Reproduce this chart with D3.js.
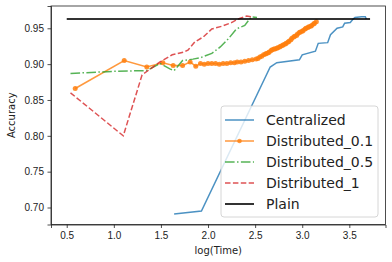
<!DOCTYPE html>
<html>
<head>
<meta charset="utf-8">
<script src="https://d3js.org/d3.v7.min.js"></script>
<style>
  body { margin: 0; background: #fff; }
  svg { display: block; font-family: "DejaVu Sans", sans-serif; }
  .axis text { font-size: 10px; fill: #222; }
  .axis path, .axis line { stroke: #222; stroke-width: 0.8px; }
</style>
</head>
<body>
<svg width="392" height="262"></svg>
<script>
// ~~~~~~ DATA ~~~~~~

var xTicks = [0.5, 1.0, 1.5, 2.0, 2.5, 3.0, 3.5];
var yTicks = [0.70, 0.75, 0.80, 0.85, 0.90, 0.95];

var centralized_x = [1.64, 1.93, 2.66, 2.73, 2.97, 3.00, 3.14, 3.17, 3.27, 3.30, 3.37, 3.43, 3.45, 3.51, 3.54, 3.56, 3.63, 3.67, 3.68];
var centralized_y = [0.691, 0.695, 0.896, 0.902, 0.906, 0.913, 0.918, 0.929, 0.930, 0.941, 0.950, 0.952, 0.957, 0.958, 0.963, 0.965, 0.966, 0.966, 0.963];

var dist01_x = [0.59, 1.11, 1.35, 1.52, 1.63, 1.73, 1.81, 1.87, 1.92, 1.96, 2.00, 2.04, 2.08, 2.12, 2.16, 2.20, 2.24, 2.28, 2.31, 2.35, 2.39, 2.43, 2.47, 2.51, 2.53, 2.55, 2.57, 2.59, 2.61, 2.62, 2.64, 2.65, 2.67, 2.68, 2.70, 2.71, 2.73, 2.74, 2.76, 2.77, 2.79, 2.80, 2.82, 2.83, 2.85, 2.86, 2.88, 2.89, 2.91, 2.92, 2.94, 2.95, 2.97, 2.98, 3.00, 3.01, 3.03, 3.04, 3.06, 3.07, 3.09, 3.10, 3.12, 3.13, 3.15];
var dist01_y = [0.866, 0.905, 0.896, 0.902, 0.898, 0.898, 0.903, 0.897, 0.901, 0.900, 0.901, 0.901, 0.901, 0.900, 0.901, 0.901, 0.902, 0.902, 0.903, 0.903, 0.904, 0.905, 0.906, 0.907, 0.908, 0.910, 0.911, 0.913, 0.914, 0.915, 0.916, 0.917, 0.919, 0.920, 0.921, 0.921, 0.922, 0.923, 0.924, 0.925, 0.926, 0.927, 0.928, 0.929, 0.931, 0.932, 0.934, 0.936, 0.938, 0.939, 0.940, 0.942, 0.944, 0.945, 0.946, 0.947, 0.949, 0.950, 0.951, 0.952, 0.953, 0.954, 0.956, 0.957, 0.959];

var dist05_x = [0.54, 1.00, 1.35, 1.49, 1.60, 1.64, 1.73, 1.84, 1.92, 2.04, 2.13, 2.22, 2.30, 2.39, 2.43, 2.46, 2.52];
var dist05_y = [0.887, 0.890, 0.891, 0.901, 0.893, 0.891, 0.905, 0.907, 0.909, 0.915, 0.924, 0.936, 0.949, 0.954, 0.961, 0.966, 0.965];

var dist1_x = [0.54, 1.10, 1.30, 1.49, 1.62, 1.75, 1.79, 1.86, 1.95, 2.04, 2.15, 2.25, 2.32, 2.41, 2.47];
var dist1_y = [0.860, 0.800, 0.885, 0.903, 0.913, 0.917, 0.920, 0.931, 0.938, 0.949, 0.953, 0.958, 0.963, 0.967, 0.966];

var plain_x = [0.5, 3.72];
var plain_y = [0.963, 0.963];

var seriesNames = ["Centralized", "Distributed_0.1", "Distributed_0.5", "Distributed_1", "Plain"];

// ~~~~~~ SVG ~~~~~~

var svg = d3.select("svg"),
    margin = {top: 6, right: 6.5, bottom: 37.5, left: 51},
    width = +svg.attr("width") - margin.left - margin.right,
    height = +svg.attr("height") - margin.top - margin.bottom;

var main_g = svg.append("g")
    .attr("transform", "translate(" + margin.left + "," + margin.top + ")");

// ~~~~~~ SCALES ~~~~~~

var x = d3.scaleLinear().domain([0.333, 3.884]).range([0, width]);
var y = d3.scaleLinear().domain([0.6763, 0.9811]).range([height, 0]);

function zip(xs, ys) {
  return xs.map(function(v, i) { return [v, ys[i]]; });
}

var series = [
  {name: seriesNames[0], pts: zip(centralized_x, centralized_y), color: "#1f77b4", width: 1.5, dash: null, marker: false},
  {name: seriesNames[1], pts: zip(dist01_x, dist01_y), color: "#ff7f0e", width: 1.5, dash: null, marker: true},
  {name: seriesNames[2], pts: zip(dist05_x, dist05_y), color: "#2ca02c", width: 1.5, dash: "9.6,2.4,1.5,2.4", marker: false},
  {name: seriesNames[3], pts: zip(dist1_x, dist1_y), color: "#d62728", width: 1.5, dash: "5.5,2.4", marker: false},
  {name: seriesNames[4], pts: zip(plain_x, plain_y), color: "#000000", width: 2, dash: null, marker: false}
];

// ~~~~~~ AXES ~~~~~~

main_g.append("g")
  .attr("class", "axis")
  .attr("transform", "translate(0," + height + ")")
  .call(d3.axisBottom(x).tickValues(xTicks).tickFormat(d3.format(".1f")).tickSizeOuter(0).tickSize(3.5).tickPadding(3.5));

main_g.append("g")
  .attr("class", "axis")
  .call(d3.axisLeft(y).tickValues(yTicks).tickFormat(d3.format(".2f")).tickSizeOuter(0).tickSize(3.5).tickPadding(3.5));

// frame
main_g.append("rect")
  .attr("width", width)
  .attr("height", height)
  .attr("fill", "none")
  .attr("stroke", "#222")
  .attr("stroke-width", 0.8);

svg.append("text")
  .attr("x", margin.left + width / 2)
  .attr("y", 254)
  .attr("text-anchor", "middle")
  .style("font-size", "10px")
  .attr("fill", "#222")
  .text("log(Time)");

svg.append("text")
  .attr("transform", "translate(15," + (margin.top + height / 2) + ") rotate(-90)")
  .attr("text-anchor", "middle")
  .style("font-size", "10px")
  .attr("fill", "#222")
  .text("Accuracy");

// ~~~~~~ LINES ~~~~~~

var drawLine = d3.line()
  .x(function(d) { return x(d[0]); })
  .y(function(d) { return y(d[1]); });

series.forEach(function(s) {
  main_g.append("path")
    .attr("d", drawLine(s.pts))
    .attr("fill", "none")
    .attr("stroke", s.color)
    .attr("stroke-opacity", 0.8)
    .attr("stroke-width", s.width)
    .attr("stroke-dasharray", s.dash);

  if (s.marker) {
    main_g.selectAll(null)
      .data(s.pts)
      .enter()
      .append("circle")
      .attr("cx", function(d) { return x(d[0]); })
      .attr("cy", function(d) { return y(d[1]); })
      .attr("r", 2.5)
      .attr("fill", s.color)
      .attr("fill-opacity", 0.85);
  }
});

// ~~~~~~ LEGEND ~~~~~~

var legend_g = svg.append("g")
  .attr("transform", "translate(221,106)");

legend_g.append("rect")
  .attr("width", 157)
  .attr("height", 111)
  .attr("rx", 3)
  .attr("fill", "#fff")
  .attr("fill-opacity", 0.8)
  .attr("stroke", "#cccccc")
  .attr("stroke-width", 0.8);

var items = legend_g.selectAll(".item")
  .data(series)
  .enter()
  .append("g")
  .attr("class", "item")
  .attr("transform", function(d, i) { return "translate(0," + (14 + i * 21) + ")"; });

items.append("line")
  .attr("x1", 4)
  .attr("x2", 33)
  .attr("stroke", function(d) { return d.color; })
  .attr("stroke-opacity", 0.8)
  .attr("stroke-width", function(d) { return d.width; })
  .attr("stroke-dasharray", function(d) { return d.dash; });

items.filter(function(d) { return d.marker; })
  .append("circle")
  .attr("cx", 18.5)
  .attr("r", 2.3)
  .attr("fill", function(d) { return d.color; })
  .attr("fill-opacity", 0.8);

items.append("text")
  .attr("x", 45)
  .attr("dy", "0.35em")
  .style("font-size", "14px")
  .attr("fill", "#222")
  .text(function(d) { return d.name; });
</script>
</body>
</html>
